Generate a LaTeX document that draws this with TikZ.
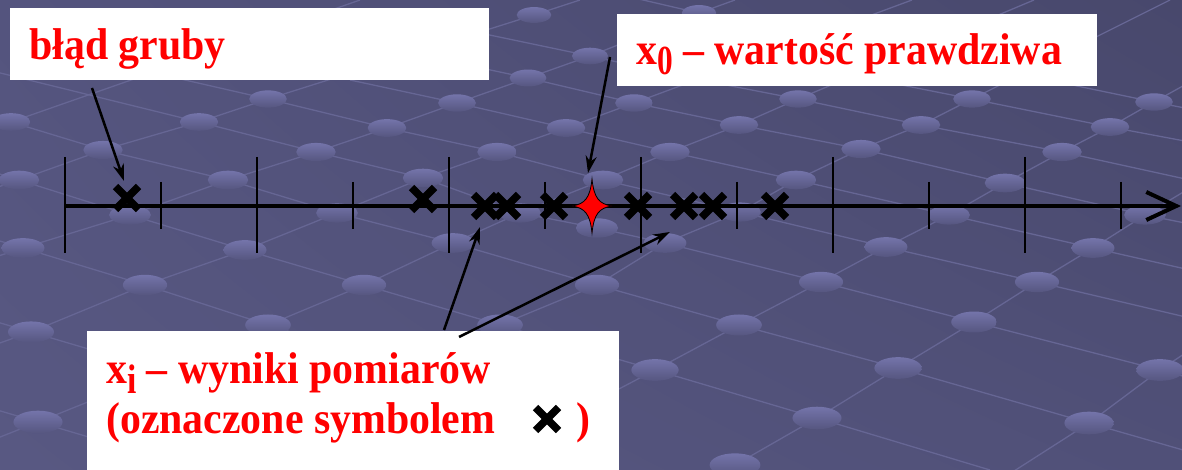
\documentclass[tikz,border=0pt]{standalone}
\usepackage{fontspec}
\setmainfont{Liberation Serif}[FakeStretch=0.94]
\usepackage{graphicx}
\usetikzlibrary{arrows.meta,calc,shadings}
\definecolor{bgA}{RGB}{84,84,126}
\definecolor{bgB}{RGB}{72,72,108}
\definecolor{bgC}{RGB}{88,88,130}
\definecolor{bgD}{RGB}{80,80,120}
\definecolor{gridline}{RGB}{102,102,148}
\definecolor{dotT}{RGB}{116,116,170}
\definecolor{dotB}{RGB}{86,86,128}
\definecolor{txtred}{RGB}{255,0,0}
\newcommand\lowsub[2]{\raisebox{-10pt}{\scalebox{#1}[0.93]{#2}}}
\begin{document}
\begin{tikzpicture}[x=1pt,y=-1pt,
  gline/.style={draw=gridline, line width=1.3pt},
  box/.style={fill=white, draw=none, anchor=north west, inner sep=0pt},
  lbl/.style={text=txtred, font=\fontsize{44.5pt}{52pt}\selectfont\bfseries, anchor=base west, inner sep=0pt},
  axisline/.style={line width=4pt},
  tickline/.style={line width=2pt},
  pointer/.style={line width=2.5pt, -{Stealth[length=17pt,width=11pt]}},
  xmark/.style={rectangle, inner sep=0pt, minimum size=29pt,
    path picture={
      \draw[line width=7.5pt] ([shift={(-11.5pt,-11.5pt)}]path picture bounding box.center) -- ([shift={(11.5pt,11.5pt)}]path picture bounding box.center);
      \draw[line width=7.5pt] ([shift={(-11.5pt,11.5pt)}]path picture bounding box.center) -- ([shift={(11.5pt,-11.5pt)}]path picture bounding box.center);
    }},
]
\useasboundingbox (0,0) rectangle (1182,470);
\clip (0,0) rectangle (1182,470);
% background
\shade[upper left=bgA, upper right=bgB, lower left=bgC, lower right=bgD] (0,0) rectangle (1182,470);
% lattice lines, first family
\draw[gline] (-20,193) -- (19,180) -- (103,150) -- (199,122) -- (268,99) -- (534,15) -- (580,0);
\draw[gline] (-20,262) -- (23,248) -- (130,215) -- (228,180) -- (316,152) -- (387,128) -- (457,103) -- (528,78) -- (590,56) -- (699,13) -- (735,0);
\draw[gline] (-20,350) -- (31,332) -- (145,285) -- (245,250) -- (337,213) -- (423,178) -- (497,152) -- (566,128) -- (634,103) -- (912,0);
\draw[gline] (180,362) -- (268,325) -- (364,285) -- (453,243) -- (520,213) -- (603,180) -- (670,152) -- (739,125) -- (798,99) -- (1034,0);
\draw[gline] (420,365) -- (500,325) -- (597,285) -- (665,243) -- (740,212) -- (796,180) -- (861,149) -- (921,125) -- (972,99) -- (1170,0);
\draw[gline] (560,420) -- (655,370) -- (739,325) -- (821,282) -- (886,247) -- (949,215) -- (1005,183) -- (1062,152) -- (1110,127) -- (1154,102) -- (1190,82);
\draw[gline] (650,515) -- (735,465) -- (817,418) -- (898,368) -- (974,322) -- (1037,282) -- (1093,248) -- (1145,215) -- (1190,188);
\draw[gline] (1000,480) -- (1089,423) -- (1160,370) -- (1190,350);
\draw[gline] (-20,133) -- (11,122) -- (360,0);
\draw[gline] (-20,445) -- (38,422) -- (150,377);
% lattice lines, second family
\draw[gline] (-20,317) -- (31,332) -- (200,382);
\draw[gline] (-20,405) -- (38,422) -- (200,470);
\draw[gline] (-20,235) -- (23,248) -- (145,285) -- (268,325) -- (480,390);
\draw[gline] (-20,168) -- (19,180) -- (130,215) -- (245,250) -- (364,285) -- (500,325) -- (655,370) -- (817,418) -- (990,470);
\draw[gline] (-20,113) -- (11,122) -- (103,150) -- (228,180) -- (337,213) -- (453,243) -- (597,285) -- (739,325) -- (898,368) -- (1089,423) -- (1190,452);
\draw[gline] (-20,68) -- (199,122) -- (316,152) -- (423,178) -- (520,213) -- (597,228) -- (665,243) -- (821,282) -- (974,322) -- (1160,370) -- (1190,378);
\draw[gline] (150,72) -- (268,99) -- (387,128) -- (497,152) -- (603,180) -- (740,212) -- (886,247) -- (1037,282) -- (1190,318);
\draw[gline] (350,80) -- (457,103) -- (566,128) -- (670,152) -- (796,180) -- (949,215) -- (1093,248) -- (1190,270);
\draw[gline] (420,55) -- (528,78) -- (634,103) -- (739,125) -- (861,149) -- (1005,183) -- (1145,215) -- (1190,224);
\draw[gline] (480,33) -- (590,56) -- (690,78) -- (798,99) -- (921,125) -- (1062,152) -- (1190,180);
\draw[gline] (700,45) -- (972,99) -- (1110,127) -- (1190,142);
\draw[gline] (1000,70) -- (1154,102) -- (1190,109);
\draw[gline] (600,-10) -- (699,13) -- (800,35);
% lattice dots
\foreach \px/\py in {534/15,590/56,528/78,268/99,457/103,199/122,11/122,387/128,566/128,103/150,316/152,497/152,19/180,228/180,423/178,130/215,337/213,520/213,23/248,245/250,453/243,145/285,364/285,597/285,268/325,31/332,38/422,500/325,
  634/103,798/99,972/99,1154/102,739/125,921/125,1110/127,670/152,861/149,1062/152,603/180,796/180,1005/183,949/215,1145/215,665/243,886/247,1093/248,821/282,1037/282,739/325,974/322,655/370,898/368,1160/370,817/418,1089/423,735/465,699/13,740/212,597/228}{
  \pgfmathsetmacro\rx{17+0.018*\py}
  \pgfmathsetmacro\ry{0.46*\rx}
  \shade[top color=dotT, bottom color=dotB] (\px,\py) ellipse [x radius=\rx pt, y radius=\ry pt];
}
% axis
\coordinate (axL) at (65,206);
\coordinate (axR) at (1181,206);
\draw[axisline, -{Straight Barb[length=30pt,width=28pt]}] (axL) -- (axR);
\foreach \t in {65,257,449,641,833,1025} \draw[tickline] (\t,157) -- (\t,253);
\foreach \t in {161,353,545,737,929,1121} \draw[tickline] (\t,182) -- (\t,229);
% measurements
\node[xmark] (m1) at (127,198) {};
\node[xmark] (m2) at (423,199) {};
\node[xmark] (m3) at (485,206) {};
\node[xmark] (m4) at (507,206) {};
\node[xmark] (m5) at (554,206) {};
\node[xmark] (m6) at (638,206) {};
\node[xmark] (m7) at (684,206) {};
\node[xmark] (m8) at (713,206) {};
\node[xmark] (m9) at (775,206) {};
% true value star
\coordinate (x0) at (592,206);
\begin{scope}[shift={(x0)}]
\draw[fill=red, line width=0.8pt] (20,0) .. controls (7,2) and (2,8) .. (0,27) .. controls (-2,8) and (-7,2) .. (-20,0) .. controls (-7,-2) and (-2,-8) .. (0,-27) .. controls (2,-8) and (7,-2) .. (20,0) -- cycle;
\end{scope}
% boxes
\node[box, minimum width=479pt, minimum height=72pt] (boxA) at (10,8) {};
\node[box, minimum width=480pt, minimum height=72pt] (boxB) at (617,14) {};
\node[box, minimum width=532pt, minimum height=150pt] (boxC) at (87,331) {};
% labels
\node[lbl] (tA) at (29,60) {błąd gruby};
\node[lbl] (tB) at (636,65) {x\lowsub{0.75}{0} – wartość prawdziwa};
\node[lbl] (tC1) at (106,383) {x\lowsub{0.8}{i} – wyniki pomiarów};
\node[lbl] (tC2) at (106,433) {(oznaczone symbolem};
\node[xmark] (leg) at (547,419) {};
\node[lbl] (tC3) at (576,433) {)};
% pointers
\coordinate (sA) at (92,88);   \coordinate (eA) at (124,181);
\coordinate (sB) at (610,57);  \coordinate (eB) at (588,173);
\coordinate (sC) at (444,330); \coordinate (eC) at (480,227);
\coordinate (sD) at (459,337); \coordinate (eD) at (670,232);
\draw[pointer] (sA) -- (eA);
\draw[pointer] (sB) -- (eB);
\draw[pointer] (sC) -- (eC);
\draw[pointer] (sD) -- (eD);
\end{tikzpicture}
\end{document}
